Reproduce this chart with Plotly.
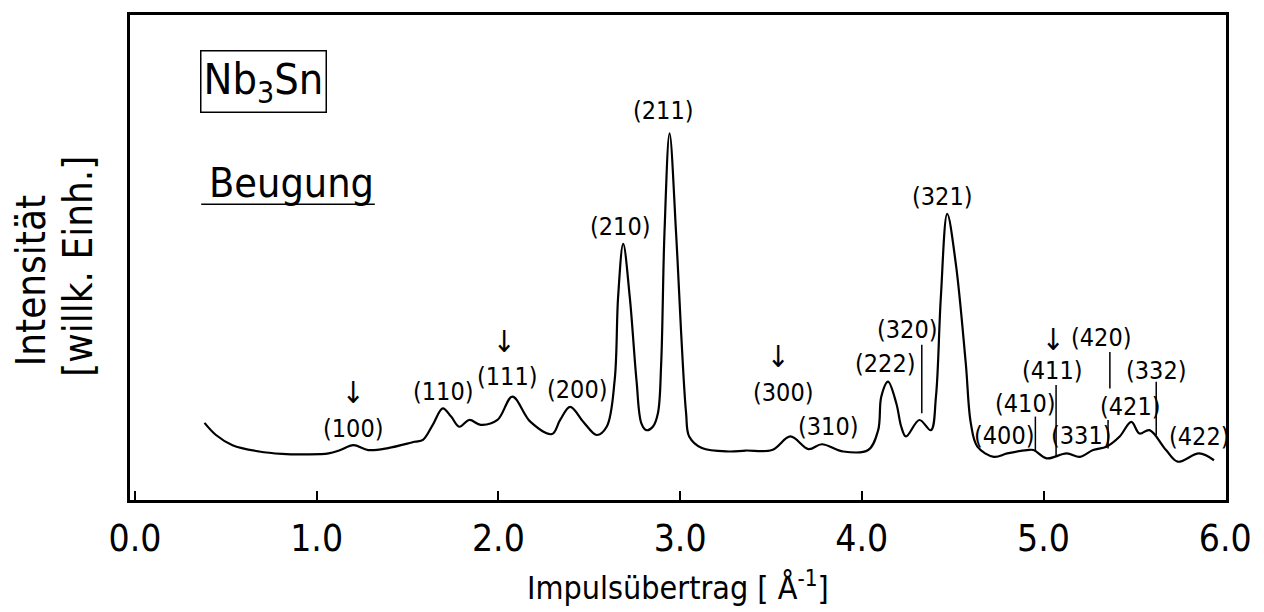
import plotly.graph_objects as go

# Neutron diffraction pattern of Nb3Sn: momentum transfer (1/Å) vs. intensity (arb. units)
q = [0.383, 0.446, 0.537, 0.683, 0.81, 0.938, 1.066, 1.13, 1.202, 1.284, 1.393, 1.539,
     1.585, 1.639, 1.694, 1.74, 1.785, 1.84, 1.903, 1.995, 2.077, 2.177, 2.295, 2.34,
     2.395, 2.468, 2.541, 2.596, 2.64, 2.659, 2.687, 2.723, 2.76, 2.787, 2.814, 2.85,
     2.878, 2.896, 2.914, 2.942, 2.978, 3.005, 3.033, 3.05, 3.12, 3.27, 3.36, 3.506,
     3.607, 3.707, 3.78, 3.898, 4.035, 4.09, 4.107, 4.144, 4.19, 4.217, 4.243, 4.317,
     4.38, 4.408, 4.435, 4.47, 4.517, 4.572, 4.60, 4.636, 4.727, 4.80, 4.91, 4.945,
     5.018, 5.127, 5.2, 5.273, 5.346, 5.419, 5.483, 5.528, 5.583, 5.674, 5.738, 5.856,
     5.938]
intensity = [15.9, 13.4, 11.3, 10.0, 9.5, 9.4, 9.6, 10.3, 11.3, 10.3, 10.7, 12.0,
             12.4, 15.5, 18.9, 17.2, 15.1, 16.5, 15.5, 16.5, 21.3, 16.1, 13.6, 16.5,
             19.2, 16.1, 13.4, 15.1, 24.7, 41.9, 52.8, 41.9, 24.7, 15.8, 14.4, 15.1,
             17.9, 28.2, 55.0, 75.6, 55.0, 35.0, 17.9, 13.1, 10.7, 10.0, 10.2, 10.3,
             13.1, 10.5, 11.5, 10.0, 10.3, 14.4, 21.3, 24.4, 19.9, 15.1, 13.1, 16.5,
             14.4, 21.3, 41.9, 59.0, 48.8, 28.2, 15.8, 11.0, 8.9, 9.6, 10.3, 10.3,
             8.6, 9.6, 8.9, 10.3, 11.0, 13.1, 16.1, 13.7, 14.4, 10.3, 7.9, 9.6,
             8.2]

# Miller indices of the reflections
hkl = ["(100)", "(110)", "(111)", "(200)", "(210)", "(211)", "(300)", "(310)", "(222)",
       "(320)", "(321)", "(400)", "(410)", "(411)", "(420)", "(331)", "(421)", "(332)",
       "(422)"]

# superlattice reflections marked with an arrow
arrow_hkl = ["(100)", "(111)", "(300)", "(411)"]

x_ticks = [0, 1, 2, 3, 4, 5, 6]
x_tick_labels = ["0.0", "1.0", "2.0", "3.0", "4.0", "5.0", "6.0"]

FONT = "DejaVu Sans Condensed, DejaVu Sans, sans-serif"

# label anchor points (data units)
label_pos = {
    "(100)": (1.202, 14.8), "(110)": (1.694, 22.3), "(111)": (2.049, 25.4),
    "(200)": (2.432, 22.7), "(210)": (2.667, 56.3), "(211)": (2.907, 80.4),
    "(300)": (3.568, 22.1), "(310)": (3.814, 15.1), "(222)": (4.126, 28.2),
    "(320)": (4.251, 35.1), "(321)": (4.443, 62.5), "(400)": (4.781, 13.4),
    "(410)": (4.90, 20.0), "(411)": (5.044, 26.8), "(420)": (5.317, 33.6),
    "(331)": (5.208, 13.4), "(421)": (5.475, 19.2), "(332)": (5.617, 26.8),
    "(422)": (5.858, 13.0),
}
arrow_pos = {
    "(100)": (1.202, 22.1), "(111)": (2.033, 32.6),
    "(300)": (3.541, 29.5), "(411)": (5.055, 33.0),
}
# short leader lines joining labels to their reflections: (x, y0, y1)
leaders = [
    (4.33, 32.0, 17.9),
    (4.955, 17.2, 10.0),
    (5.069, 23.7, 8.9),
    (5.365, 30.5, 23.0),
    (5.355, 16.5, 10.6),
    (5.62, 24.4, 13.4),
]

fig = go.Figure()
fig.add_trace(go.Scatter(
    x=q, y=intensity, mode="lines",
    line=dict(color="black", width=2.2, shape="spline", smoothing=1.0),
    hoverinfo="skip", showlegend=False,
))

annotations = []
for name in hkl:
    x, y = label_pos[name]
    annotations.append(dict(x=x, y=y, xref="x", yref="y", text=name, showarrow=False,
                            xanchor="center", yanchor="middle",
                            font=dict(family=FONT, size=25, color="black")))
for name in arrow_hkl:
    x, y = arrow_pos[name]
    annotations.append(dict(x=x, y=y, xref="x", yref="y", text="↓", showarrow=False,
                            xanchor="center", yanchor="middle",
                            font=dict(family=FONT, size=30, color="black")))

annotations += [
    dict(x=0.71, y=86.3, xref="x", yref="y", text="Nb<sub>3</sub>Sn", showarrow=False,
         xanchor="center", yanchor="middle",
         font=dict(family=FONT, size=43, color="black"),
         bordercolor="black", borderwidth=1.5, borderpad=2),
    dict(x=0.86, y=65.3, xref="x", yref="y", text="Beugung", showarrow=False,
         xanchor="center", yanchor="middle",
         font=dict(family=FONT, size=41, color="black")),
    dict(x=0.5, y=-0.178, xref="paper", yref="paper", text="Impulsübertrag [ Å<sup>-1</sup>]",
         xanchor="center", yanchor="middle",
         showarrow=False, font=dict(family=FONT, size=32, color="black")),
    dict(x=-0.0907, y=0.452, xref="paper", yref="paper", text="Intensität", textangle=-90,
         xanchor="center", yanchor="middle",
         showarrow=False, font=dict(family=FONT, size=40, color="black")),
    dict(x=-0.047, y=0.482, xref="paper", yref="paper", text="[willk. Einh.]", textangle=-90,
         xanchor="center", yanchor="middle",
         showarrow=False, font=dict(family=FONT, size=40, color="black")),
]

shapes = [dict(type="line", xref="x", yref="y", x0=x, x1=x, y0=y0, y1=y1,
               line=dict(color="black", width=1.5)) for x, y0, y1 in leaders]
# underline under "Beugung"
shapes.append(dict(type="line", xref="x", yref="y", x0=0.365, x1=1.32, y0=61.0, y1=61.0,
                   line=dict(color="black", width=1.5)))

fig.update_layout(
    width=1264, height=612,
    margin=dict(l=130, r=31, t=15, b=112),
    paper_bgcolor="white", plot_bgcolor="white",
    annotations=annotations, shapes=shapes,
    xaxis=dict(range=[-0.027, 6.004], tickvals=x_ticks, ticktext=x_tick_labels,
               ticks="inside", ticklen=9, tickwidth=2, tickcolor="black",
               ticklabelstandoff=4,
               showline=True, mirror=True, linecolor="black", linewidth=2.5,
               showgrid=False, zeroline=False,
               tickfont=dict(family=FONT, size=37, color="black")),
    yaxis=dict(range=[0, 100], showticklabels=False, ticks="",
               showline=True, mirror=True, linecolor="black", linewidth=2.5,
               showgrid=False, zeroline=False),
)

fig.write_html("out.html")
